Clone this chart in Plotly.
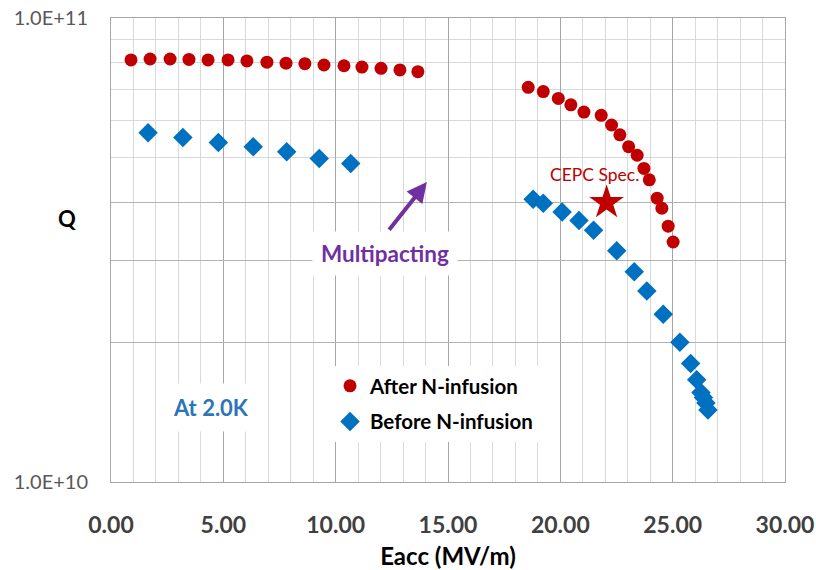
import math
import plotly.graph_objects as go

# ---------------- data ----------------
after_x = [0.89, 1.74, 2.63, 3.47, 4.32, 5.21, 6.05, 6.94, 7.79, 8.63, 9.48, 10.37, 11.17, 12.02, 12.86, 13.66,
           18.57, 19.24, 19.91, 20.47, 21.05, 21.82, 22.28, 22.65, 23.04, 23.42, 23.72, 23.96, 24.31, 24.52, 24.80, 25.02]
after_q = [8.12e10, 8.16e10, 8.16e10, 8.14e10, 8.12e10, 8.12e10, 8.08e10, 8.03e10, 7.99e10, 7.97e10, 7.92e10, 7.89e10,
           7.84e10, 7.79e10, 7.73e10, 7.66e10,
           7.09e10, 6.94e10, 6.71e10, 6.50e10, 6.27e10, 6.17e10, 5.88e10, 5.60e10, 5.28e10, 5.06e10, 4.74e10, 4.48e10,
           4.09e10, 3.89e10, 3.56e10, 3.29e10]

before_x = [1.65, 3.20, 4.78, 6.33, 7.82, 9.27, 10.67,
            18.79, 19.24, 20.08, 20.83, 21.48, 22.51, 23.29, 23.85, 24.58, 25.32, 25.80, 26.07, 26.26, 26.37, 26.48, 26.57]
before_q = [5.66e10, 5.53e10, 5.39e10, 5.28e10, 5.15e10, 4.98e10, 4.86e10,
            4.07e10, 3.99e10, 3.82e10, 3.66e10, 3.49e10, 3.15e10, 2.84e10, 2.58e10, 2.30e10, 2.00e10, 1.80e10, 1.66e10,
            1.56e10, 1.52e10, 1.48e10, 1.43e10]

spec_x = [22.06]
spec_q = [4.0e10]

x_ticks = [0, 5, 10, 15, 20, 25, 30]
y_major = [1e10, 2e10, 3e10, 4e10, 1e11]
y_major_text = ["1.0E+10", "", "", "", "1.0E+11"]
y_minor = [5e10, 6e10, 7e10, 8e10, 9e10]

FONT = "Lato"
RED = "#C00000"
BLUE = "#0070C0"
PURPLE = "#7030A0"

W, H = 816, 570
L, R, T, B = 111, 31, 18, 88
PW, PH = W - L - R, H - T - B   # 674 x 464


def px_x(px):   # window pixel -> paper x
    return (px - L) / PW


def px_y(py):   # window pixel -> paper y
    return (H - B - py) / PH


fig = go.Figure()
fig.add_trace(go.Scatter(
    x=after_x, y=after_q, mode="markers", name="After N-infusion",
    legendgroup="a",
    marker=dict(symbol="circle", size=13, color=RED)))
fig.add_trace(go.Scatter(
    x=before_x, y=before_q, mode="markers", name="Before N-infusion",
    legendgroup="b",
    marker=dict(symbol="diamond", size=15, color=BLUE)))
fig.add_trace(go.Scatter(
    x=spec_x, y=spec_q, mode="markers", showlegend=False,
    marker=dict(symbol="star", size=26, color=RED)))

annotations = [
    dict(x=spec_x[0], y=math.log10(spec_q[0]), xref="x", yref="y", text="CEPC Spec.",
         showarrow=False, xshift=-12, yshift=28,
         font=dict(family=FONT, size=17.5, color=RED)),
    dict(x=14.06, y=math.log10(4.43e10), ax=12.33, ay=math.log10(3.47e10),
         xref="x", yref="y", axref="x", ayref="y", text="", showarrow=True,
         arrowhead=2, arrowsize=1, arrowwidth=4, arrowcolor=PURPLE),
    dict(x=12.2, y=math.log10(3.115e10), xref="x", yref="y", text="<b>Multipacting</b>",
         showarrow=False, bgcolor="white", borderpad=8,
         font=dict(family=FONT, size=22.5, color=PURPLE)),
    dict(x=4.45, y=math.log10(1.45e10), xref="x", yref="y", text="<b>At 2.0K</b>",
         showarrow=False, bgcolor="white", borderpad=10,
         font=dict(family=FONT, size=22, color="#2E75B6")),
    dict(x=px_x(67), y=px_y(218), xref="paper", yref="paper", text="<b>Q</b>",
         showarrow=False, xanchor="center", yanchor="middle",
         font=dict(family=FONT, size=22, color="black")),
]

fig.update_layout(
    width=W, height=H,
    margin=dict(l=L, r=R, t=T, b=B, autoexpand=False),
    paper_bgcolor="white", plot_bgcolor="white",
    font=dict(family=FONT),
    showlegend=True,
    legend=dict(
        x=px_x(330), y=px_y(366), xanchor="left", yanchor="top",
        bgcolor="white", traceorder="grouped", tracegroupgap=6,
        font=dict(family=FONT, size=20.5, color="black", weight="bold"),
        itemwidth=30,
    ),
    annotations=annotations,
    xaxis=dict(
        range=[0, 30], tickvals=x_ticks, tickformat=".2f", automargin=False,
        tickfont=dict(family=FONT, size=23, color="#404040", weight="bold"),
        ticks="", ticklabelstandoff=22,
        showgrid=True, gridcolor="#a6a6a6", gridwidth=1,
        minor=dict(dtick=1, showgrid=True, gridcolor="#d9d9d9", gridwidth=1),
        showline=True, linecolor="#a6a6a6", mirror=True, zeroline=False,
        title=dict(text="<b>Eacc (MV/m)</b>", font=dict(family=FONT, size=24, color="black"), standoff=12),
    ),
    yaxis=dict(
        type="log", range=[10, 11], automargin=False,
        tickmode="array", tickvals=y_major, ticktext=y_major_text,
        tickfont=dict(family=FONT, size=20, color="#595959"),
        ticks="", ticklabelstandoff=18,
        showgrid=True, gridcolor="#b4b4b4", gridwidth=1,
        minor=dict(tickmode="array", tickvals=y_minor, showgrid=True, gridcolor="#d9d9d9", gridwidth=1),
        showline=True, linecolor="#a6a6a6", mirror=True, zeroline=False,
    ),
)

fig.write_html("out.html", config={"displayModeBar": False},
               post_script="document.body.style.margin='0';")
